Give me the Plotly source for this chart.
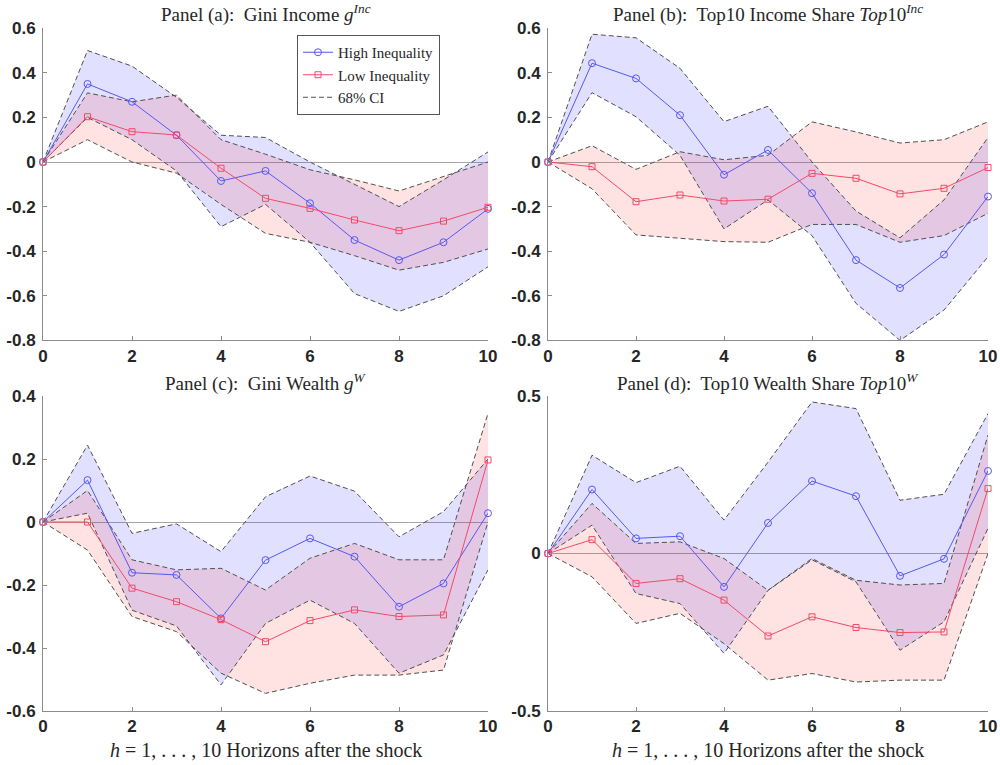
import plotly.graph_objects as go

# ---------------- data ----------------
H = [0, 1, 2, 3, 4, 5, 6, 7, 8, 9, 10]

# Panel (a): Gini income
a_high = [0, 0.35, 0.27, 0.12, -0.085, -0.04, -0.185, -0.35, -0.44, -0.36, -0.21]
a_low = [0, 0.203, 0.136, 0.121, -0.028, -0.163, -0.208, -0.26, -0.308, -0.265, -0.203]
a_high_up = [0, 0.5, 0.43, 0.29, 0.12, 0.11, 0.0, -0.1, -0.2, -0.08, 0.045]
a_high_lo = [0, 0.2, 0.1, -0.04, -0.29, -0.19, -0.36, -0.59, -0.67, -0.6, -0.47]
a_low_up = [0, 0.31, 0.27, 0.3, 0.1, 0.035, -0.035, -0.08, -0.13, -0.065, 0.0]
a_low_lo = [0, 0.1, 0.0, -0.05, -0.19, -0.32, -0.36, -0.42, -0.485, -0.45, -0.39]

# Panel (b): Top10 income share
b_high = [0, 0.443, 0.375, 0.21, -0.057, 0.054, -0.14, -0.44, -0.565, -0.415, -0.155]
b_low = [0, -0.021, -0.178, -0.148, -0.175, -0.167, -0.051, -0.073, -0.143, -0.118, -0.025]
b_high_up = [0, 0.573, 0.557, 0.42, 0.181, 0.25, 0.0, -0.22, -0.34, -0.17, 0.11]
b_high_lo = [0, 0.311, 0.203, 0.03, -0.3, -0.17, -0.33, -0.634, -0.8, -0.664, -0.425]
b_low_up = [0, 0.073, -0.033, 0.046, 0.01, 0.03, 0.18, 0.135, 0.085, 0.1, 0.18]
b_low_lo = [0, -0.12, -0.327, -0.342, -0.357, -0.36, -0.28, -0.28, -0.36, -0.33, -0.23]

# Panel (c): Gini wealth
c_high = [0, 0.133, -0.161, -0.168, -0.306, -0.121, -0.052, -0.11, -0.269, -0.195, 0.028]
c_low = [0, 0.0, -0.21, -0.253, -0.31, -0.38, -0.313, -0.279, -0.3, -0.295, 0.197]
c_high_up = [0, 0.244, -0.036, -0.006, -0.094, 0.08, 0.146, 0.098, -0.047, 0.033, 0.2]
c_high_lo = [0, 0.028, -0.28, -0.33, -0.517, -0.322, -0.248, -0.322, -0.48, -0.422, -0.152]
c_low_up = [0, 0.1, -0.12, -0.152, -0.147, -0.216, -0.115, -0.068, -0.12, -0.12, 0.345]
c_low_lo = [0, -0.089, -0.3, -0.348, -0.48, -0.544, -0.512, -0.486, -0.486, -0.47, 0.0]

# Panel (d): Top10 wealth share
d_high = [0, 0.203, 0.048, 0.055, -0.106, 0.097, 0.23, 0.182, -0.071, -0.017, 0.262]
d_low = [0, 0.044, -0.095, -0.08, -0.148, -0.262, -0.201, -0.235, -0.251, -0.249, 0.206]
d_high_up = [0, 0.312, 0.225, 0.277, 0.106, 0.29, 0.481, 0.46, 0.169, 0.188, 0.444]
d_high_lo = [0, 0.09, -0.127, -0.159, -0.317, -0.117, -0.02, -0.09, -0.307, -0.217, 0.08]
d_low_up = [0, 0.159, 0.032, 0.037, -0.016, -0.117, -0.016, -0.085, -0.1, -0.095, 0.376]
d_low_lo = [0, -0.074, -0.222, -0.19, -0.286, -0.402, -0.381, -0.408, -0.402, -0.402, 0.0]

x_ticks = [0, 2, 4, 6, 8, 10]
ab_yticks = [-0.8, -0.6, -0.4, -0.2, 0, 0.2, 0.4, 0.6]
ab_ylabels = ["-0.8", "-0.6", "-0.4", "-0.2", "0", "0.2", "0.4", "0.6"]
c_yticks = [-0.6, -0.4, -0.2, 0, 0.2, 0.4]
c_ylabels = ["-0.6", "-0.4", "-0.2", "0", "0.2", "0.4"]
d_yticks = [-0.5, 0, 0.5]
d_ylabels = ["-0.5", "0", "0.5"]

titles = [
    "Panel (a):  Gini Income <i>g</i><sup><i>Inc</i></sup>",
    "Panel (b):  Top10 Income Share <i>Top</i>10<sup><i>Inc</i></sup>",
    "Panel (c):  Gini Wealth <i>g</i><sup><i>W</i></sup>",
    "Panel (d):  Top10 Wealth Share <i>Top</i>10<sup><i>W</i></sup>",
]
xlabel = "<i>h</i> = 1, . . . , 10 Horizons after the shock"
series_names = ["High Inequality", "Low Inequality", "68% CI"]

# ---------------- styling ----------------
BLUE = "#5757f2"
RED = "#f24a68"
BLUE_FILL = "rgba(40,40,255,0.14)"
RED_FILL = "rgba(255,40,40,0.13)"
CI_COLOR = "#505050"
SERIF = "Liberation Serif, DejaVu Serif, serif"
SANS = "Liberation Sans, Arial, sans-serif"

fig = go.Figure()


def add_panel(idx, hi, lo, hi_up, hi_lo, lo_up, lo_lo):
    xa = "x" if idx == 1 else f"x{idx}"
    ya = "y" if idx == 1 else f"y{idx}"
    first = idx == 1
    # shaded bands
    fig.add_trace(go.Scatter(x=H + H[::-1], y=hi_up + hi_lo[::-1], fill="toself",
                             fillcolor=BLUE_FILL, mode="lines", line=dict(width=0),
                             hoverinfo="skip", showlegend=False, xaxis=xa, yaxis=ya))
    fig.add_trace(go.Scatter(x=H + H[::-1], y=lo_up + lo_lo[::-1], fill="toself",
                             fillcolor=RED_FILL, mode="lines", line=dict(width=0),
                             hoverinfo="skip", showlegend=False, xaxis=xa, yaxis=ya))
    # dashed CI bounds
    for k, band in enumerate([hi_up, hi_lo, lo_up, lo_lo]):
        fig.add_trace(go.Scatter(x=H, y=band, mode="lines",
                                 line=dict(color=CI_COLOR, width=1, dash="5px,3px"),
                                 name=series_names[2], legendrank=3,
                                 showlegend=(first and k == 0),
                                 xaxis=xa, yaxis=ya, cliponaxis=False))
    # point estimates
    fig.add_trace(go.Scatter(x=H, y=hi, mode="lines+markers",
                             line=dict(color=BLUE, width=1),
                             marker=dict(symbol="circle-open", size=7, color=BLUE,
                                         line=dict(width=1, color=BLUE)),
                             name=series_names[0], legendrank=1, showlegend=first,
                             xaxis=xa, yaxis=ya, cliponaxis=False))
    fig.add_trace(go.Scatter(x=H, y=lo, mode="lines+markers",
                             line=dict(color=RED, width=1),
                             marker=dict(symbol="square-open", size=6, color=RED,
                                         line=dict(width=1, color=RED)),
                             name=series_names[1], legendrank=2, showlegend=first,
                             xaxis=xa, yaxis=ya, cliponaxis=False))


add_panel(1, a_high, a_low, a_high_up, a_high_lo, a_low_up, a_low_lo)
add_panel(2, b_high, b_low, b_high_up, b_high_lo, b_low_up, b_low_lo)
add_panel(3, c_high, c_low, c_high_up, c_high_lo, c_low_up, c_low_lo)
add_panel(4, d_high, d_low, d_high_up, d_high_lo, d_low_up, d_low_lo)

W, Hpx = 1000, 765
xdom_left = [43 / W, 488 / W]
xdom_right = [548 / W, 988 / W]
ydom_top = [(Hpx - 340.4) / Hpx, (Hpx - 28.2) / Hpx]
ydom_bot = [(Hpx - 711.0) / Hpx, (Hpx - 396.0) / Hpx]

axis_common = dict(showline=True, linecolor="#8c8c8c", linewidth=1, ticks="inside",
                   ticklen=4, tickcolor="#8c8c8c", showgrid=False, mirror=False,
                   automargin=False,
                   tickfont=dict(family=SANS, size=17, color="#262626", weight="bold"))


def xax(dom, anchor):
    return dict(domain=dom, anchor=anchor, range=[0, 10], tickvals=x_ticks,
                zeroline=False, **axis_common)


def yax(dom, anchor, rng, vals, labels):
    return dict(domain=dom, anchor=anchor, range=rng, tickvals=vals, ticktext=labels,
                zeroline=True, zerolinecolor="#a6a6a6", zerolinewidth=1,
                ticklabelstandoff=3, **axis_common)


fig.update_layout(
    width=W, height=Hpx,
    margin=dict(l=0, r=0, t=0, b=0, pad=0, autoexpand=False),
    paper_bgcolor="white", plot_bgcolor="white",
    xaxis=xax(xdom_left, "y"),
    yaxis=yax(ydom_top, "x", [-0.8, 0.6], ab_yticks, ab_ylabels),
    xaxis2=xax(xdom_right, "y2"),
    yaxis2=yax(ydom_top, "x2", [-0.8, 0.6], ab_yticks, ab_ylabels),
    xaxis3=xax(xdom_left, "y3"),
    yaxis3=yax(ydom_bot, "x3", [-0.6, 0.4], c_yticks, c_ylabels),
    xaxis4=xax(xdom_right, "y4"),
    yaxis4=yax(ydom_bot, "x4", [-0.5, 0.5], d_yticks, d_ylabels),
    legend=dict(x=297 / W, y=(Hpx - 35) / Hpx, xanchor="left", yanchor="top",
                bgcolor="white", bordercolor="#555555", borderwidth=1,
                font=dict(family=SERIF, size=15, color="#262626"),
                tracegroupgap=0, itemwidth=30),
    showlegend=True,
)

title_pos = [((43 + 488) / 2, 13), ((548 + 988) / 2, 13),
             ((43 + 488) / 2, 382), ((548 + 988) / 2, 382)]
for t, (cx, cy) in zip(titles, title_pos):
    fig.add_annotation(text=t, x=cx / W, y=(Hpx - cy) / Hpx, xref="paper", yref="paper",
                       xanchor="center", yanchor="middle", showarrow=False,
                       font=dict(family=SERIF, size=19, color="#262626"))
for cx in [(43 + 488) / 2, (548 + 988) / 2]:
    fig.add_annotation(text=xlabel, x=cx / W, y=(Hpx - 750) / Hpx, xref="paper",
                       yref="paper", xanchor="center", yanchor="middle", showarrow=False,
                       font=dict(family=SERIF, size=20, color="#262626"))

fig.write_html("out.html")
